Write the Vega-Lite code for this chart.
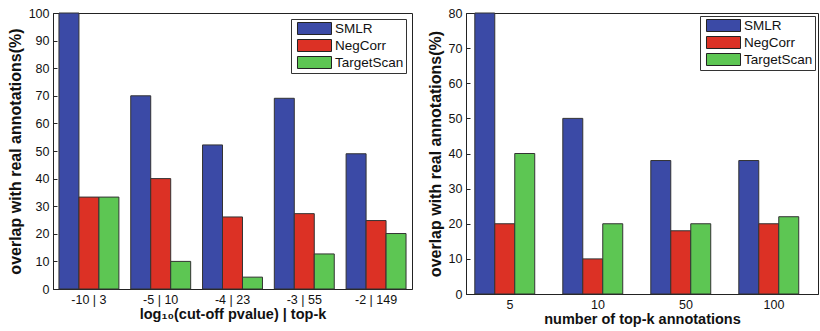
{
  "$schema": "https://vega.github.io/schema/vega-lite/v6.json",
  "padding": {"left": 6, "top": 3, "right": 0, "bottom": 0},
  "autosize": {"type": "pad"},
  "background": "white",
  "config": {
    "font": "Liberation Sans",
    "view": {"stroke": "#222", "strokeWidth": 1},
    "axis": {
      "domainColor": "#222", "tickColor": "#222", "labelColor": "#111", "titleColor": "#111",
      "labelFont": "Liberation Sans", "labelFontSize": 12.5, "titleFont": "Liberation Sans",
      "grid": false, "tickSize": -4, "labelPadding": 8
    },
    "legend": {
      "title": null, "padding": 2, "strokeColor": "#333", "fillColor": "white",
      "symbolType": "M-2.43,-0.857H2.43V0.857H-2.43Z", "symbolSize": 196,
      "symbolStrokeColor": "#222", "symbolStrokeWidth": 1, "symbolOffset": 14,
      "labelOffset": 13, "labelFontSize": 13.5, "labelFont": "Liberation Sans", "labelColor": "#111",
      "rowPadding": 0
    }
  },
  "datasets": {
    "left": [
      {"cat": "-10 | 3", "method": "SMLR", "value": 100},
      {"cat": "-10 | 3", "method": "NegCorr", "value": 33.3},
      {"cat": "-10 | 3", "method": "TargetScan", "value": 33.3},
      {"cat": "-5 | 10", "method": "SMLR", "value": 70},
      {"cat": "-5 | 10", "method": "NegCorr", "value": 40},
      {"cat": "-5 | 10", "method": "TargetScan", "value": 10},
      {"cat": "-4 | 23", "method": "SMLR", "value": 52.2},
      {"cat": "-4 | 23", "method": "NegCorr", "value": 26.1},
      {"cat": "-4 | 23", "method": "TargetScan", "value": 4.3},
      {"cat": "-3 | 55", "method": "SMLR", "value": 69.1},
      {"cat": "-3 | 55", "method": "NegCorr", "value": 27.3},
      {"cat": "-3 | 55", "method": "TargetScan", "value": 12.7},
      {"cat": "-2 | 149", "method": "SMLR", "value": 49},
      {"cat": "-2 | 149", "method": "NegCorr", "value": 24.8},
      {"cat": "-2 | 149", "method": "TargetScan", "value": 20.1}
    ],
    "right": [
      {"cat": "5", "method": "SMLR", "value": 80},
      {"cat": "5", "method": "NegCorr", "value": 20},
      {"cat": "5", "method": "TargetScan", "value": 40},
      {"cat": "10", "method": "SMLR", "value": 50},
      {"cat": "10", "method": "NegCorr", "value": 10},
      {"cat": "10", "method": "TargetScan", "value": 20},
      {"cat": "50", "method": "SMLR", "value": 38},
      {"cat": "50", "method": "NegCorr", "value": 18},
      {"cat": "50", "method": "TargetScan", "value": 20},
      {"cat": "100", "method": "SMLR", "value": 38},
      {"cat": "100", "method": "NegCorr", "value": 20},
      {"cat": "100", "method": "TargetScan", "value": 22}
    ]
  },
  "spacing": 13,
  "hconcat": [
    {
      "width": 359, "height": 276,
      "data": {"name": "left"},
      "mark": {"type": "bar", "stroke": "#333", "strokeWidth": 1},
      "encoding": {
        "x": {"field": "cat", "type": "nominal", "sort": null,
          "scale": {"paddingInner": 0.165, "paddingOuter": 0.083},
          "axis": {"title": "log₁₀(cut-off pvalue) | top-k", "labelAngle": 0, "bandPosition": 0.5,
            "titleFontSize": 14.5, "titleFontWeight": "bold", "titlePadding": 2}},
        "xOffset": {"field": "method", "type": "nominal", "sort": ["SMLR", "NegCorr", "TargetScan"],
          "scale": {"paddingInner": 0, "paddingOuter": 0}},
        "y": {"field": "value", "type": "quantitative", "scale": {"domain": [0, 100], "nice": false},
          "axis": {"title": "overlap with real annotations(%)", "values": [0,10,20,30,40,50,60,70,80,90,100],
            "titleFontSize": 16, "titleFontWeight": "bold", "titlePadding": 5}},
        "color": {"field": "method", "type": "nominal",
          "scale": {"domain": ["SMLR", "NegCorr", "TargetScan"], "range": ["#3B4AA6", "#DC3125", "#5DC653"]},
          "legend": {"orient": "top-right", "offset": 6}}
      }
    },
    {
      "width": 352, "height": 281,
      "title": {"text": " ", "fontSize": 1, "offset": 2},
      "data": {"name": "right"},
      "mark": {"type": "bar", "stroke": "#333", "strokeWidth": 1},
      "encoding": {
        "x": {"field": "cat", "type": "nominal", "sort": null,
          "scale": {"paddingInner": 0.2, "paddingOuter": 0.1},
          "axis": {"title": "number of top-k annotations", "labelAngle": 0, "bandPosition": 0.5,
            "titleFontSize": 14.5, "titleFontWeight": "bold", "titlePadding": 2}},
        "xOffset": {"field": "method", "type": "nominal", "sort": ["SMLR", "NegCorr", "TargetScan"],
          "scale": {"paddingInner": 0, "paddingOuter": 0}},
        "y": {"field": "value", "type": "quantitative", "scale": {"domain": [0, 80], "nice": false},
          "axis": {"title": "overlap with real annotations(%)", "values": [0,10,20,30,40,50,60,70,80],
            "titleFontSize": 16, "titleFontWeight": "bold", "titlePadding": 5}},
        "color": {"field": "method", "type": "nominal",
          "scale": {"domain": ["SMLR", "NegCorr", "TargetScan"], "range": ["#3B4AA6", "#DC3125", "#5DC653"]},
          "legend": {"orient": "top-right", "offset": 3}}
      }
    }
  ],
  "resolve": {"scale": {"color": "independent"}, "legend": {"color": "independent"}}
}
